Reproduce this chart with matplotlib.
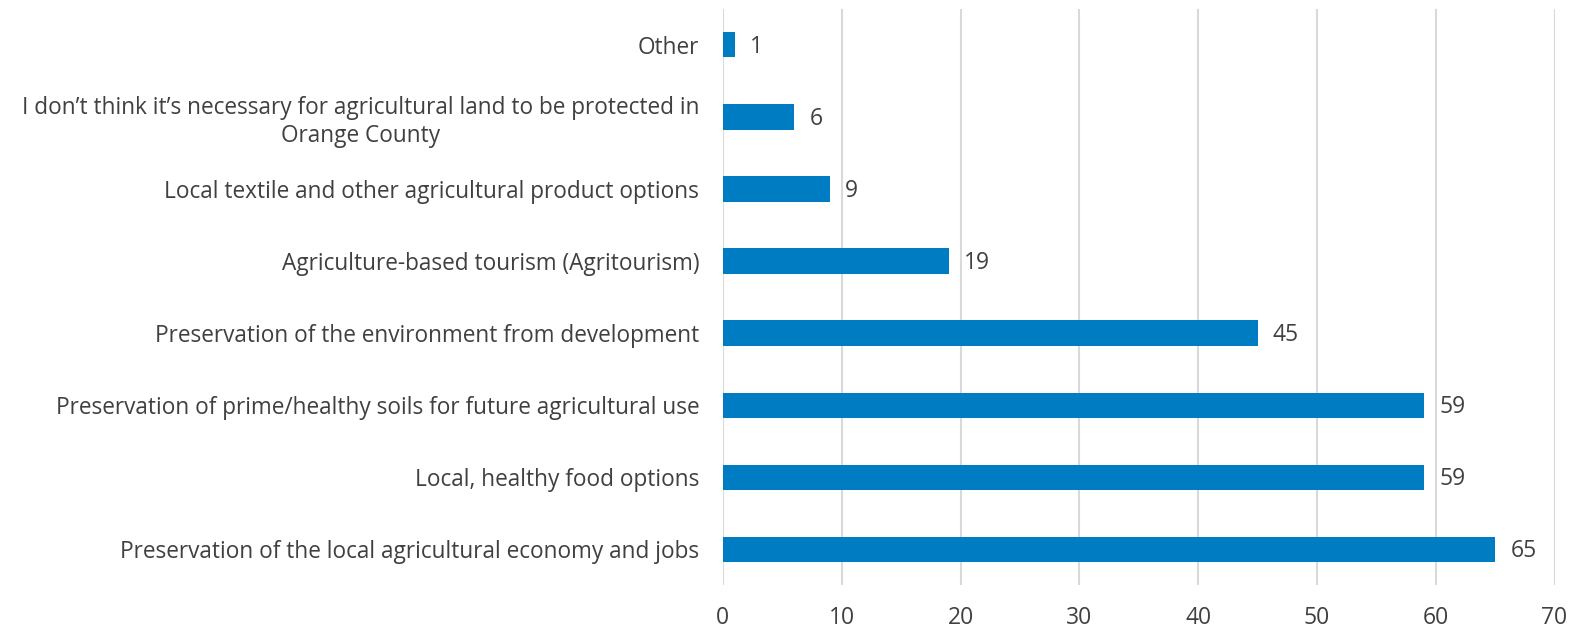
import matplotlib
matplotlib.use("Agg")
import matplotlib.pyplot as plt

# survey responses, bottom to top
categories = [
    "Preservation of the local agricultural economy and jobs",
    "Local, healthy food options",
    "Preservation of prime/healthy soils for future agricultural use",
    "Preservation of the environment from development",
    "Agriculture-based tourism (Agritourism)",
    "Local textile and other agricultural product options",
    "I don\u2019t think it\u2019s necessary for agricultural land to be protected in\nOrange County",
    "Other",
]
counts = [65, 59, 59, 45, 19, 9, 6, 1]
xticks = [0, 10, 20, 30, 40, 50, 60, 70]

plt.rcParams['font.family'] = ['Open Sans', 'DejaVu Sans']
txt = '#404040'

fig = plt.figure(figsize=(15.75, 6.32), dpi=100)
ax = fig.add_axes([0.459, 0.074, 0.528, 0.912])

ypos = range(len(categories))
ax.barh(ypos, counts, height=0.35, color='#007CC3', zorder=3)
for y, v in zip(ypos, counts):
    ax.text(v + 1.3, y - 0.03, str(v), va='center', ha='left', fontsize=16.5, color=txt)

ax.set_xlim(0, 70)
ax.set_ylim(-0.5, len(categories) - 0.5)
ax.set_xticks(xticks)
ax.set_yticks(list(ypos))
ax.set_yticklabels(categories, ha='right', multialignment='center', linespacing=1.25)
ax.tick_params(axis='y', length=0, pad=17, labelsize=16.3, labelcolor=txt)
ax.tick_params(axis='x', length=0, pad=15, labelsize=16.5, labelcolor=txt)
ax.grid(axis='x', color='#d9d9d9', linewidth=1.5, zorder=0)
for s in ax.spines.values():
    s.set_visible(False)

fig.savefig('out.png', dpi=100)
